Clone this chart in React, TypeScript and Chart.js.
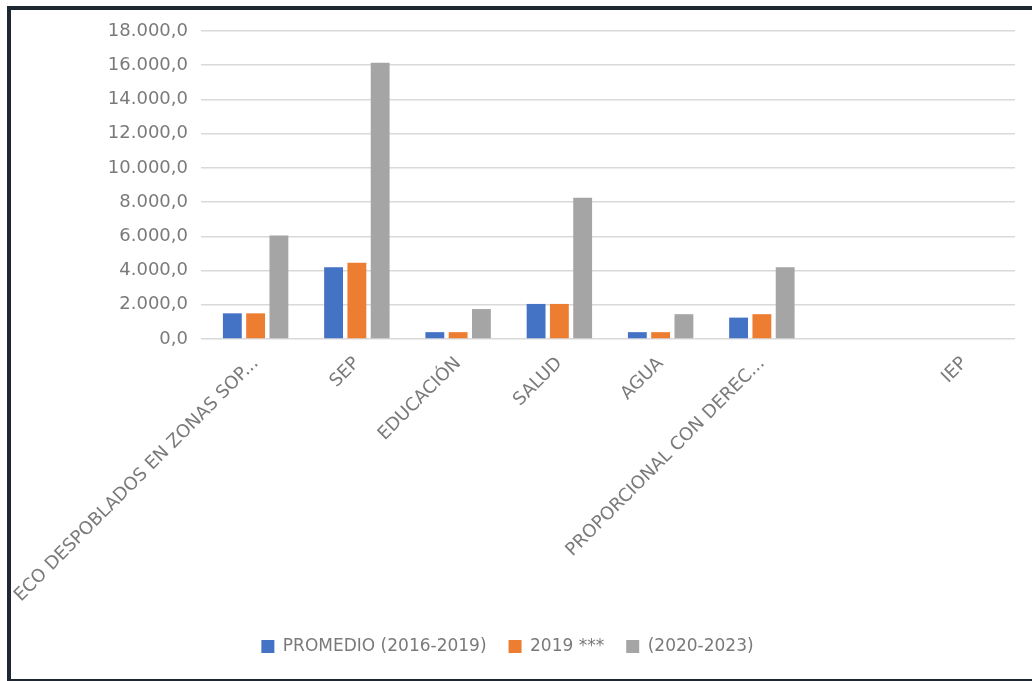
import React, { useEffect, useRef } from "react";
import { Chart, registerables } from "chart.js";

Chart.register(...registerables);

const categories: string[] = [
  "ECO DESPOBLADOS EN ZONAS SOP...",
  "SEP",
  "EDUCACIÓN",
  "SALUD",
  "AGUA",
  "PROPORCIONAL CON DEREC...",
  "",
  "IEP",
];

const seriesNames: string[] = ["PROMEDIO (2016-2019)", "2019 ***", "(2020-2023)"];

const promedio: number[] = [1500, 4200, 400, 2050, 400, 1250, 0, 0];
const year2019: number[] = [1500, 4450, 400, 2050, 400, 1450, 0, 0];
const periodo: number[] = [6050, 16150, 1750, 8250, 1450, 4200, 0, 0];

const yTickLabels: string[] = [
  "0,0",
  "2.000,0",
  "4.000,0",
  "6.000,0",
  "8.000,0",
  "10.000,0",
  "12.000,0",
  "14.000,0",
  "16.000,0",
  "18.000,0",
];

const colors = ["#4472c4", "#ed7d31", "#a5a5a5"];
const textColor = "#7a7a7a";
const FONT = "'DejaVu Sans', sans-serif";

export default function App() {
  const ref = useRef<HTMLCanvasElement | null>(null);

  useEffect(() => {
    if (!ref.current) return;
    const chart = new Chart(ref.current, {
      type: "bar",
      data: {
        labels: categories,
        datasets: [promedio, year2019, periodo].map((d, i) => ({
          label: seriesNames[i],
          data: d,
          backgroundColor: colors[i],
          borderWidth: 0,
          barPercentage: 0.81,
          categoryPercentage: 0.69,
        })),
      },
      options: {
        responsive: false,
        animation: false,
        layout: { padding: { top: 31, right: 17, bottom: 16, left: 0 } },
        plugins: {
          tooltip: { enabled: false },
          legend: {
            position: "bottom",
            labels: {
              boxWidth: 13,
              boxHeight: 13,
              padding: 22,
              color: textColor,
              font: { family: FONT, size: 17 },
            },
          },
        },
        scales: {
          x: {
            grid: { display: false, drawTicks: false },
            border: { display: false },
            ticks: {
              minRotation: 45,
              maxRotation: 45,
              autoSkip: false,
              padding: 14,
              color: textColor,
              font: { family: FONT, size: 18 },
            },
            afterFit: (scale: any) => {
              scale.height = 277;
              scale.paddingLeft = 0;
              scale.paddingRight = 0;
            },
          },
          y: {
            min: 0,
            max: 18000,
            grid: { color: "#d9d9d9", lineWidth: 1.5, tickLength: 4 },
            border: { display: false },
            ticks: {
              stepSize: 2000,
              padding: 13,
              color: textColor,
              font: { family: FONT, size: 18 },
              callback: (_v: any, i: number) => yTickLabels[i],
            },
            afterFit: (scale: any) => {
              scale.width = 205;
            },
          },
        },
      },
    });
    return () => chart.destroy();
  }, []);

  return (
    <div
      style={{
        position: "absolute",
        left: 0,
        top: 0,
        width: 1032,
        height: 681,
        background: "#fff",
        overflow: "hidden",
      }}
    >
      <canvas ref={ref} width={1032} height={681} style={{ position: "absolute", left: 0, top: 0 }} />
      <div style={{ position: "absolute", left: 7, top: 6, width: 1025, height: 4, background: "#1f2733" }} />
      <div style={{ position: "absolute", left: 7, top: 6, width: 4, height: 675, background: "#1f2733" }} />
      <div style={{ position: "absolute", left: 7, top: 679, width: 1025, height: 2, background: "#1f2733" }} />
    </div>
  );
}
